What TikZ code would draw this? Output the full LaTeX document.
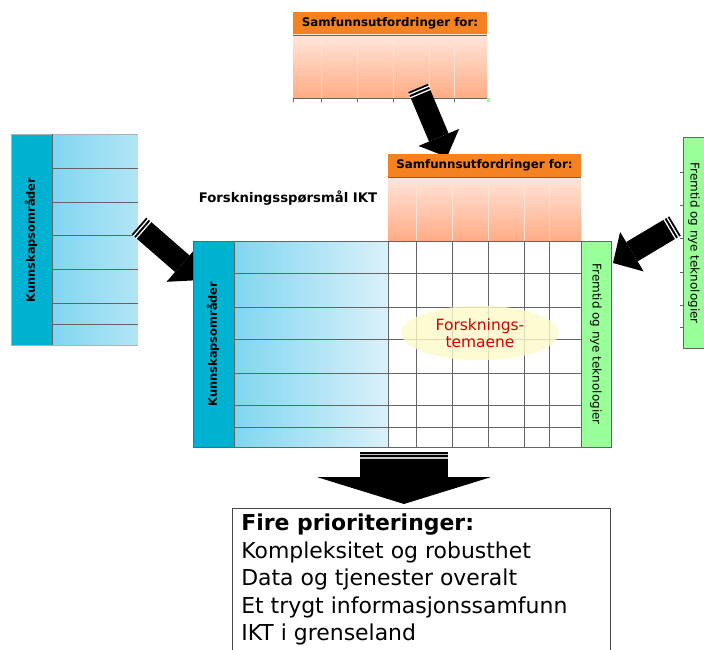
\documentclass[tikz,border=0pt]{standalone}
\usepackage{fontspec}
\setmainfont{DejaVu Sans}
\usepackage{tikz}
\usetikzlibrary{shapes.geometric, arrows.meta, decorations.markings}

\definecolor{hdrorange}{RGB}{245,130,32}
\definecolor{pinktop}{RGB}{255,229,219}
\definecolor{pinkbot}{RGB}{255,172,132}
\definecolor{cyandark}{RGB}{0,178,209}
\definecolor{blueleft}{RGB}{128,214,240}
\definecolor{blueright}{RGB}{218,241,250}
\definecolor{greencol}{RGB}{153,255,153}
\definecolor{gridgray}{RGB}{100,100,100}
\definecolor{temafill}{RGB}{252,250,200}
\definecolor{temared}{RGB}{215,0,0}

\begin{document}
\begin{tikzpicture}
            [
            x=0.025cm, y=-0.025cm,
            hdrtext/.style={font={\fontsize{8.4}{10}\selectfont\bfseries}},
            kunntext/.style={font={\fontsize{8.1}{10}\selectfont\bfseries},rotate=90},
            fremtext/.style={font={\fontsize{8.5}{10}\selectfont},rotate=-90},
            gridline/.style={draw=gridgray,line width=0.7pt},
            paleline/.style={draw=white!65!pinkbot,line width=0.7pt},
            blockarrow/.style n args={4}{line width=#1,
                -{Triangle[width=#2,length=#3,line width=0pt]},
                % two light stripes across the tail
                postaction={decorate,decoration={markings,
                mark=at position 1.8pt with {\draw[-,#4,line width=0.9pt] (0,-#1/2-0.4pt) -- (0,#1/2+0.4pt);},
                mark=at position 4.3pt with {\draw[-,#4,line width=0.9pt] (0,-#1/2-0.4pt) -- (0,#1/2+0.4pt);}}}},
            ]
            \useasboundingbox (0,0) rectangle (704,650);

            % Samfunnsutfordringer, top copy
            \fill[hdrorange] (293,12) rectangle (487,35);
            \shade[top color=pinktop,bottom color=pinkbot] (293,35) rectangle (487,98);
            \draw[paleline] (321,35) -- (321,98) (357,35) -- (357,98) (393,35) -- (393,98)
                (429,35) -- (429,98) (454,35) -- (454,98);
            \draw[gridline] (293,35) -- (487,35);
            \draw[gridline] (293,98) -- (487,98) (293,98) -- (293,102) (321,98) -- (321,102)
                (357,98) -- (357,102) (393,98) -- (393,102) (429,98) -- (429,102)
                (454,98) -- (454,102);
            \fill[greencol] (487,98) rectangle (490,102);
            \node[hdrtext] (samfTop) at (390,23.5) {Samfunnsutfordringer for:};

            % Kunnskapsomraader, left copy
            \fill[cyandark] (11,134) rectangle (52,345);
            \shade[left color=blueleft,right color=blueright!56!blueleft] (52,134) rectangle (138,345);
            \draw[gridline] (52,168) -- (138,168) (52,202) -- (138,202) (52,235) -- (138,235)
                (52,269) -- (138,269) (52,303) -- (138,303) (52,324) -- (138,324);
            \draw[gridline,draw=gridgray!50] (138,134) -- (11,134) -- (11,345) -- (138,345);
            \draw[gridline] (52,134) -- (52,345);
            \node[kunntext] (kunnLeft) at (31,240) {Kunnskapsområder};

            % Fremtid, right copy
            \fill[greencol] (683,137) rectangle (704,348);
            \draw[gridline] (704,137) -- (683,137) -- (683,348) -- (704,348);
            \draw[gridline] (680,172) -- (683,172) (680,205) -- (683,205) (680,238) -- (683,238)
                (680,272) -- (683,272) (680,305) -- (683,305) (680,327) -- (683,327);
            \node[fremtext] (fremRight) at (694,243) {Fremtid og nye teknologier};

            % Arrow ends
            \coordinate (topTail) at (418,88);
            \coordinate (topTip) at (447,157);
            \coordinate (leftTail) at (139,226);
            \coordinate (leftTip) at (201,280);
            \coordinate (rightTail) at (675,226);
            \coordinate (rightTip) at (613,263);
            \coordinate (downTail) at (404,452);
            \coordinate (downTip) at (404,504);

            \draw[blockarrow={0.53cm}{1.1cm}{0.53cm}{white}] (topTail) -- (topTip);
            \draw[blockarrow={0.55cm}{1.2cm}{0.62cm}{white}] (leftTail) -- (leftTip);
            \draw[blockarrow={0.56cm}{1.15cm}{0.55cm}{white}] (rightTail) -- (rightTip);

            % Samfunnsutfordringer, over the matrix
            \fill[hdrorange] (388,154) rectangle (581,177);
            \shade[top color=pinktop,bottom color=pinkbot] (388,177) rectangle (581,241);
            \draw[paleline] (416,177) -- (416,241) (452,177) -- (452,241) (488,177) -- (488,241)
                (524,177) -- (524,241) (549,177) -- (549,241);
            \draw[gridline] (388,177) -- (581,177);
            \node[hdrtext] (samf) at (484.5,165.5) {Samfunnsutfordringer for:};

            % Matrix
            \fill[cyandark] (193,241) rectangle (234,447);
            \shade[left color=blueleft,right color=blueright] (234,241) rectangle (388,447);
            \fill[white] (388,241) rectangle (581,447);
            \fill[greencol] (581,241) rectangle (611,447);
            \draw[gridline] (234,273) -- (581,273) (234,307) -- (581,307) (234,339) -- (581,339)
                (234,373) -- (581,373) (234,405) -- (581,405) (234,427) -- (581,427);
            \draw[gridline] (416,241) -- (416,447) (452,241) -- (452,447) (488,241) -- (488,447)
                (524,241) -- (524,447) (549,241) -- (549,447);
            \draw[gridline] (234,241) -- (234,447) (388,241) -- (388,447) (581,241) -- (581,447);
            \draw[gridline] (193,241) rectangle (611,447);
            \node[kunntext] (kunn) at (213,344) {Kunnskapsområder};
            \node[fremtext] (frem) at (596,344) {Fremtid og nye teknologier};

            % Forskningstemaene
            \node[ellipse,fill=temafill,fill opacity=0.8,text opacity=1,minimum width=3.93cm,
                minimum height=1.3cm,text=temared,align=center,
                font={\fontsize{11}{12.3}\selectfont}] (tema) at (480,333) {Forsknings-\\temaene};

            % Title
            \node[font={\fontsize{9.4}{11}\selectfont\bfseries}] (sporsmal) at (288,198)
                {Forskningsspørsmål IKT};

            % Result
            \draw[blockarrow={2.175cm}{4.33cm}{0.67cm}{gray!45}] (downTail) -- (downTip);
            \draw[draw=gridgray!70!black,line width=0.7pt] (232,508) rectangle (610,670);
            \node[anchor=north west,align=left,inner sep=0pt,
                font={\fontsize{15.6}{19.5}\selectfont}] (prio) at (241,514)
                {\textbf{Fire prioriteringer:}\\Kompleksitet og robusthet\\Data og tjenester overalt\\
                Et trygt informasjonssamfunn\\IKT i grenseland};

        \end{tikzpicture}
\end{document}
